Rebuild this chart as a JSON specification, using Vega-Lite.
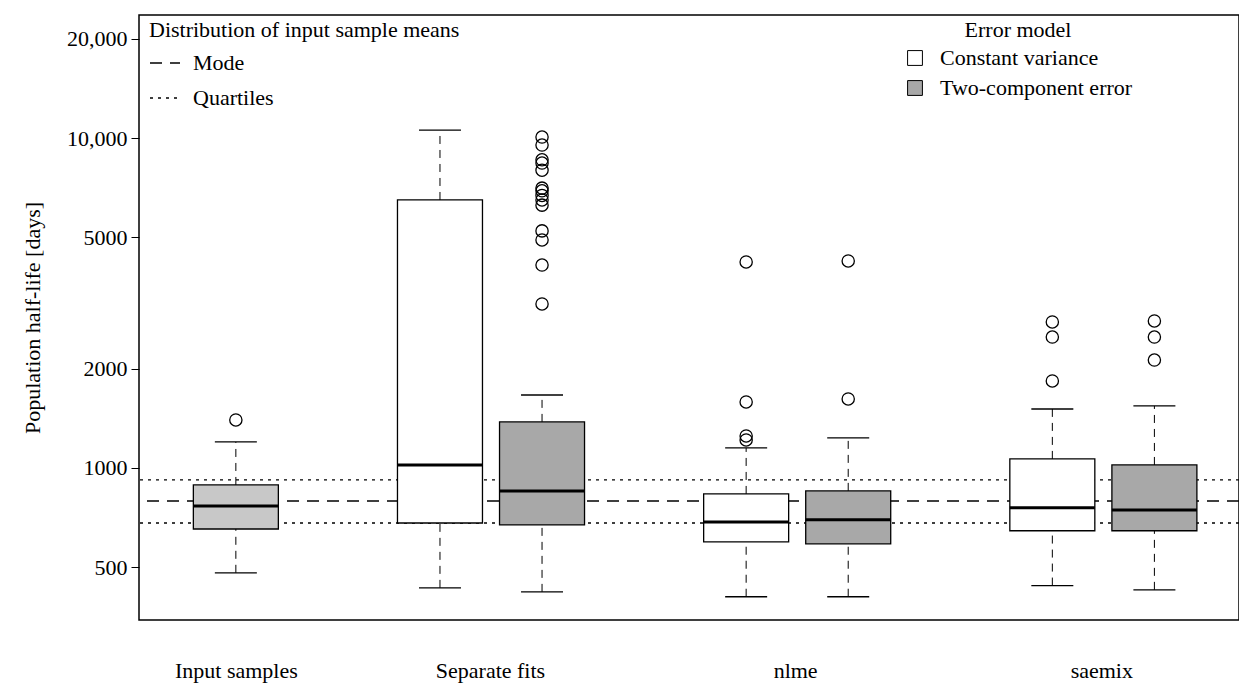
{
"$schema":"https://vega.github.io/schema/vega-lite/v6.json",
"width":1100,"height":605,
"autosize":{"type":"none"},
"padding":{"left":139,"top":15,"right":0,"bottom":66},
"config":{"font":"Liberation Serif","view":{"stroke":"black","strokeWidth":1.5},
"axis":{"labelFont":"Liberation Serif","titleFont":"Liberation Serif","labelFontSize":22,"titleFontSize":22,"labelColor":"black","titleColor":"black","titleFontWeight":"normal","grid":false,"tickColor":"black","domain":false},
"legend":{"labelFont":"Liberation Serif","titleFont":"Liberation Serif","labelFontSize":22,"titleFontSize":22,"titleFontWeight":"normal","labelColor":"black","titleColor":"black","labelLimit":0,"titleLimit":0}},
"datasets":{
"boxes":[
{"pos":0.9,"model":"Input samples","lo":481,"q1":653,"med":767,"q3":888,"hi":1199},
{"pos":2.9,"model":"Constant variance","lo":433,"q1":681,"med":1021,"q3":6490,"hi":10570},
{"pos":3.9,"model":"Two-component error","lo":421,"q1":672,"med":852,"q3":1379,"hi":1664},
{"pos":5.9,"model":"Constant variance","lo":407,"q1":597,"med":686,"q3":834,"hi":1150},
{"pos":6.9,"model":"Two-component error","lo":407,"q1":589,"med":696,"q3":852,"hi":1233},
{"pos":8.9,"model":"Constant variance","lo":440,"q1":645,"med":757,"q3":1065,"hi":1509},
{"pos":9.9,"model":"Two-component error","lo":427,"q1":645,"med":746,"q3":1021,"hi":1542}],
"out":[
{"pos":0.9,"v":1398},
{"pos":3.9,"v":10070},{"pos":3.9,"v":9520},{"pos":3.9,"v":8590},{"pos":3.9,"v":8400},{"pos":3.9,"v":7990},{"pos":3.9,"v":7050},{"pos":3.9,"v":6920},{"pos":3.9,"v":6700},{"pos":3.9,"v":6490},{"pos":3.9,"v":6260},{"pos":3.9,"v":5230},{"pos":3.9,"v":4910},{"pos":3.9,"v":4120},{"pos":3.9,"v":3140},
{"pos":5.9,"v":4210},{"pos":5.9,"v":1585},{"pos":5.9,"v":1250},{"pos":5.9,"v":1216},
{"pos":6.9,"v":4240},{"pos":6.9,"v":1618},
{"pos":8.9,"v":2770},{"pos":8.9,"v":2493},{"pos":8.9,"v":1835},
{"pos":9.9,"v":2790},{"pos":9.9,"v":2493},{"pos":9.9,"v":2123}],
"ref":[{"label":"Mode","v":794},{"label":"Quartiles","v":920},{"label":"Quartiles","v":681}]
},
"encoding":{
"x":{"type":"quantitative","scale":{"domain":[0,10.68],"nice":false,"zero":false},
 "axis":{"title":null,"values":[0.9,3.39,6.38,9.38],"ticks":false,"labelPadding":40,
 "labelExpr":"datum.value<1?'Input samples':datum.value<4?'Separate fits':datum.value<7?'nlme':'saemix'"}}
},
"layer":[
{"data":{"name":"ref"},"mark":{"type":"rule","color":"black","strokeWidth":1.3},
 "encoding":{"y":{"field":"v","type":"quantitative","scale":{"type":"log","domain":[346,23600],"nice":false},
  "axis":{"title":"Population half-life [days]","values":[500,1000,2000,5000,10000,20000],"tickSize":8,"labelPadding":4,"titlePadding":22,
  "labelExpr":"datum.value>=10000?format(datum.value,','):format(datum.value,'d')"}},
  "strokeDash":{"field":"label","type":"nominal","scale":{"domain":["Mode","Quartiles"],"range":[[12,8],[3,5]]},
   "legend":{"title":"Distribution of input sample means","orient":"none","legendX":10,"legendY":5,"symbolType":"stroke","symbolSize":900,"symbolStrokeWidth":1.3,"symbolStrokeColor":"black","labelOffset":12,"rowPadding":8}}}},
{"data":{"name":"boxes"},"mark":{"type":"rule","strokeDash":[8,6],"color":"black"},
 "encoding":{"x":{"field":"pos"},"y":{"field":"q3","type":"quantitative"},"y2":{"field":"hi"}}},
{"data":{"name":"boxes"},"mark":{"type":"rule","strokeDash":[8,6],"color":"black"},
 "encoding":{"x":{"field":"pos"},"y":{"field":"lo","type":"quantitative"},"y2":{"field":"q1"}}},
{"data":{"name":"boxes"},"mark":{"type":"tick","orient":"horizontal","size":42,"thickness":1.3,"color":"black","opacity":1},
 "encoding":{"x":{"field":"pos"},"y":{"field":"hi","type":"quantitative"}}},
{"data":{"name":"boxes"},"mark":{"type":"tick","orient":"horizontal","size":42,"thickness":1.3,"color":"black","opacity":1},
 "encoding":{"x":{"field":"pos"},"y":{"field":"lo","type":"quantitative"}}},
{"data":{"name":"boxes"},"mark":{"type":"bar","width":85,"stroke":"black","strokeWidth":1.3,"opacity":1},
 "encoding":{"x":{"field":"pos"},"y":{"field":"q1","type":"quantitative"},"y2":{"field":"q3"},
  "fill":{"field":"model","type":"nominal","scale":{"domain":["Constant variance","Two-component error","Input samples"],"range":["white","#a8a8a8","#c8c8c8"]},
   "legend":{"title":"Error model","values":["Constant variance","Two-component error"],"orient":"none","legendX":765,"legendY":5,"symbolType":"square","symbolSize":220,"symbolStrokeColor":"black","symbolStrokeWidth":1,"symbolOpacity":1,"titleAnchor":"middle","labelOffset":14,"rowPadding":8}}}},
{"data":{"name":"boxes"},"mark":{"type":"tick","orient":"horizontal","size":85,"thickness":3,"color":"black","opacity":1},
 "encoding":{"x":{"field":"pos"},"y":{"field":"med","type":"quantitative"}}},
{"data":{"name":"out"},"mark":{"type":"point","shape":"circle","size":150,"stroke":"black","strokeWidth":1.3,"filled":false,"opacity":1},
 "encoding":{"x":{"field":"pos"},"y":{"field":"v","type":"quantitative"}}}
]
}
